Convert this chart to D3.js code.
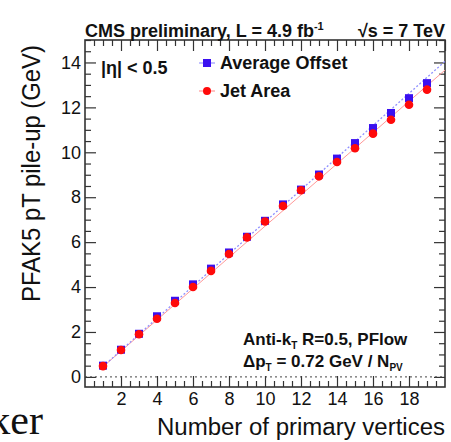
<!DOCTYPE html>
<html>
<head>
<meta charset="utf-8">
<script src="https://cdn.jsdelivr.net/npm/d3@7"></script>
<style>
  body { margin: 0; background: #fff; }
  svg { display: block; }
  text { font-family: "Liberation Sans", Arial, sans-serif; fill: #111; }
</style>
</head>
<body>
<div id="chartSection"></div>
<script>
// number of primary vertices
var nPV = [1, 2, 3, 4, 5, 6, 7, 8, 9, 10, 11, 12, 13, 14, 15, 16, 17, 18, 19];
// pile-up pT per method (GeV)
var avgOffset = [0.50, 1.21, 1.92, 2.70, 3.39, 4.12, 4.82, 5.54, 6.24, 6.95, 7.68, 8.34, 9.01, 9.72, 10.41, 11.08, 11.75, 12.41, 13.08];
var jetArea   = [0.48, 1.20, 1.90, 2.59, 3.29, 4.00, 4.72, 5.47, 6.21, 6.92, 7.61, 8.31, 8.93, 9.57, 10.18, 10.83, 11.45, 12.12, 12.79];
// linear fits [slope, intercept] and range
var fitOffset = [0.715, -0.25];
var fitArea = [0.695, -0.24];
var fitRange = [1, 20];

var xTicks = [2, 4, 6, 8, 10, 12, 14, 16, 18];
var yTicks = [0, 2, 4, 6, 8, 10, 12, 14];

var width = 451, height = 442;
var svg = d3.select("#chartSection").append("svg")
    .attr("width", width).attr("height", height);

var pLeft = 85, pRight = 445, pTop = 40, pBottom = 387;

var x = d3.scaleLinear().domain([0, 20]).range([pLeft, pRight]);
var y = d3.scaleLinear().domain([-0.45, 15]).range([pBottom, pTop]);

var minorX = d3.range(0, 20.01, 0.5).filter(function(v) { return v % 2 !== 0; });
var minorY = d3.range(0, 15.01, 0.5).filter(function(v) { return v % 2 !== 0; });

var axisColor = "#333";

function styleAxis(g) {
    g.select(".domain").remove();
    g.selectAll("line").attr("stroke", axisColor).attr("stroke-width", 1.2);
    g.selectAll("text").style("font-size", "18px").attr("fill", "#111");
}

// minor ticks, all four sides
svg.append("g").attr("transform", "translate(0," + pBottom + ")")
    .call(d3.axisBottom(x).tickValues(minorX).tickSizeInner(-6).tickSizeOuter(0).tickFormat(""))
    .call(styleAxis);
svg.append("g").attr("transform", "translate(0," + pTop + ")")
    .call(d3.axisTop(x).tickValues(minorX).tickSizeInner(-6).tickSizeOuter(0).tickFormat(""))
    .call(styleAxis);
svg.append("g").attr("transform", "translate(" + pLeft + ",0)")
    .call(d3.axisLeft(y).tickValues(minorY).tickSizeInner(-6).tickSizeOuter(0).tickFormat(""))
    .call(styleAxis);
svg.append("g").attr("transform", "translate(" + pRight + ",0)")
    .call(d3.axisRight(y).tickValues(minorY).tickSizeInner(-6).tickSizeOuter(0).tickFormat(""))
    .call(styleAxis);

// major ticks with labels
svg.append("g").attr("transform", "translate(0," + pBottom + ")")
    .call(d3.axisBottom(x).tickValues(xTicks).tickSizeInner(-11).tickSizeOuter(0).tickPadding(5))
    .call(styleAxis);
svg.append("g").attr("transform", "translate(0," + pTop + ")")
    .call(d3.axisTop(x).tickValues(xTicks.concat([20])).tickSizeInner(-11).tickSizeOuter(0).tickFormat(""))
    .call(styleAxis);
svg.append("g").attr("transform", "translate(" + pLeft + ",0)")
    .call(d3.axisLeft(y).tickValues(yTicks).tickSizeInner(-11).tickSizeOuter(0).tickPadding(4))
    .call(styleAxis);
svg.append("g").attr("transform", "translate(" + pRight + ",0)")
    .call(d3.axisRight(y).tickValues(yTicks).tickSizeInner(-11).tickSizeOuter(0).tickFormat(""))
    .call(styleAxis);

// frame
svg.append("rect")
    .attr("x", pLeft).attr("y", pTop)
    .attr("width", pRight - pLeft).attr("height", pBottom - pTop)
    .attr("fill", "none").attr("stroke", axisColor).attr("stroke-width", 1.6);

// zero line
svg.append("line")
    .attr("x1", pLeft).attr("x2", pRight)
    .attr("y1", y(0)).attr("y2", y(0))
    .attr("stroke", "#444").attr("stroke-width", 1).attr("stroke-dasharray", "2,3");

// fit lines
svg.append("line")
    .attr("x1", x(fitRange[0])).attr("y1", y(fitArea[0] * fitRange[0] + fitArea[1]))
    .attr("x2", x(fitRange[1])).attr("y2", y(fitArea[0] * fitRange[1] + fitArea[1]))
    .attr("stroke", "#ff9999").attr("stroke-width", 1);
svg.append("line")
    .attr("x1", x(fitRange[0])).attr("y1", y(fitOffset[0] * fitRange[0] + fitOffset[1]))
    .attr("x2", x(fitRange[1])).attr("y2", y(fitOffset[0] * fitRange[1] + fitOffset[1]))
    .attr("stroke", "#8f8fff").attr("stroke-width", 1.3).attr("stroke-dasharray", "2,2");

var blue = "#3a10f0", red = "#ff0a0a";

svg.append("g").selectAll("rect")
    .data(nPV)
    .enter().append("rect")
    .attr("x", function(d) { return x(d) - 4; })
    .attr("y", function(d, i) { return y(avgOffset[i]) - 4; })
    .attr("width", 8).attr("height", 8)
    .attr("fill", blue);

svg.append("g").selectAll("circle")
    .data(nPV)
    .enter().append("circle")
    .attr("cx", d => x(d))
    .attr("cy", (d, i) => y(jetArea[i]))
    .attr("r", 4.3)
    .attr("fill", red);

// legend
var legend = svg.append("g");
legend.append("line").attr("x1", 199).attr("x2", 215).attr("y1", 63).attr("y2", 63)
    .attr("stroke", "#9999ff").attr("stroke-width", 1.2);
legend.append("rect").attr("x", 203).attr("y", 59).attr("width", 8).attr("height", 8).attr("fill", blue);
legend.append("text").attr("x", 220).attr("y", 69)
    .style("font-size", "18px").style("font-weight", "bold").text("Average Offset");
legend.append("line").attr("x1", 199).attr("x2", 215).attr("y1", 91).attr("y2", 91)
    .attr("stroke", "#ff9999").attr("stroke-width", 1.2);
legend.append("circle").attr("cx", 207).attr("cy", 91).attr("r", 4).attr("fill", red);
legend.append("text").attr("x", 220).attr("y", 97)
    .style("font-size", "18px").style("font-weight", "bold").text("Jet Area");

// header
var head = svg.append("text").attr("x", pLeft).attr("y", 37)
    .style("font-size", "18px").style("font-weight", "bold");
head.append("tspan").text("CMS preliminary, L = 4.9 fb");
head.append("tspan").attr("dy", -7).style("font-size", "11px").text("-1");

svg.append("text").attr("x", pRight).attr("y", 37).attr("text-anchor", "end")
    .style("font-size", "18px").style("font-weight", "bold").text("\u221As = 7 TeV");

svg.append("text").attr("x", 101).attr("y", 74)
    .style("font-size", "18px").style("font-weight", "bold").text("|\u03B7| < 0.5");

// algorithm labels
var t1 = svg.append("text").attr("x", 243).attr("y", 345)
    .style("font-size", "17px").style("font-weight", "bold");
t1.append("tspan").text("Anti-k");
t1.append("tspan").attr("dy", 4).style("font-size", "10px").text("T");
t1.append("tspan").attr("dy", -4).text(" R=0.5, PFlow");

var t2 = svg.append("text").attr("x", 243).attr("y", 367)
    .style("font-size", "17px").style("font-weight", "bold");
t2.append("tspan").text("\u0394p");
t2.append("tspan").attr("dy", 4).style("font-size", "10px").text("T");
t2.append("tspan").attr("dy", -4).text(" = 0.72 GeV / N");
t2.append("tspan").attr("dy", 4).style("font-size", "10px").text("PV");

// axis titles
svg.append("text").attr("x", 157).attr("y", 435)
    .attr("textLength", 288).attr("lengthAdjust", "spacingAndGlyphs")
    .style("font-size", "23px").text("Number of primary vertices");

svg.append("text")
    .attr("transform", "translate(40,302) rotate(-90)")
    .attr("textLength", 257).attr("lengthAdjust", "spacingAndGlyphs")
    .style("font-size", "25px").text("PFAK5 pT pile-up (GeV)");

// cropped word from the slide
svg.append("text").attr("x", 43).attr("y", 434).attr("text-anchor", "end")
    .style("font-family", "'Liberation Serif', 'DejaVu Serif', serif")
    .style("font-size", "42px").attr("fill", "#333").text("ker");
</script>
</body>
</html>
